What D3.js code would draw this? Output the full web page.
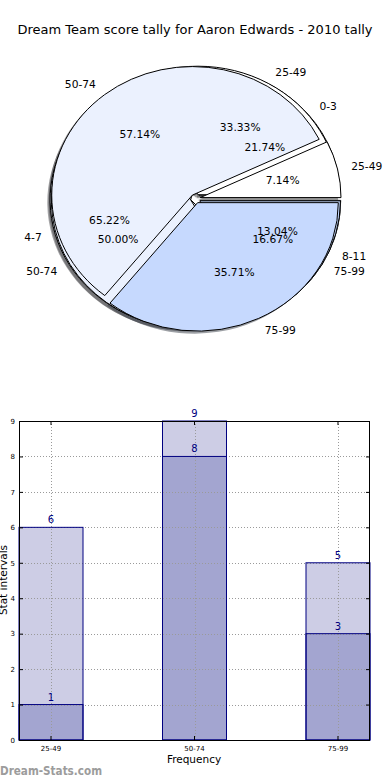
<!DOCTYPE html>
<html>
<head>
<meta charset="utf-8">
<script src="https://cdn.jsdelivr.net/npm/d3@7"></script>
<style>
  html, body { margin: 0; padding: 0; background: #fff; }
  svg { display: block; font-family: "DejaVu Sans", sans-serif; }
</style>
</head>
<body>
<svg id="chart" width="390" height="780"></svg>
<script>
// ---------- data ----------
const title = "Dream Team score tally for Aaron Edwards - 2010 tally";

// three overlaid pies (drawn bottom to top)
const pieALabels = ["0-3", "4-7", "8-11"];
const pieAValues = [5, 15, 3];
const pieBLabels = ["25-49", "50-74", "75-99"];
const pieBValues = [6, 9, 3];
const pieCLabels = ["25-49", "50-74", "75-99"];
const pieCValues = [1, 8, 5];
const pieColors = ["#ffffff", "#ebf1fe", "#c6d9fe"];

// bar chart
const barCategories = ["25-49", "50-74", "75-99"];
const barBackValues = [6, 9, 5];
const barFrontValues = [1, 8, 3];
const yTicks = [0, 1, 2, 3, 4, 5, 6, 7, 8, 9];

// ---------- setup ----------
const svg = d3.select("#chart");

svg.append("text")
  .attr("x", 195).attr("y", 30)
  .attr("text-anchor", "middle").attr("dominant-baseline", "middle")
  .attr("font-size", 13).attr("fill", "#000")
  .text(title);

// ---------- pies ----------
const cx = 195.5, cy = 198.6, rx = 140.7, ry = 128.5;
const explode = 0.035;
const shadowOff = 0.02;

const pieGen = d3.pie().sort(null).value(d => d.v)
  .startAngle(Math.PI / 2).endAngle(Math.PI / 2 - 2 * Math.PI);
const arcGen = d3.arc().innerRadius(0).outerRadius(1);

function build(labels, values) {
  const total = d3.sum(values);
  return pieGen(values.map((v, i) => ({ v, label: labels[i], i, pct: v / total * 100 })));
}
const pies = [build(pieALabels, pieAValues), build(pieBLabels, pieBValues), build(pieCLabels, pieCValues)];

const xs = d3.scaleLinear().domain([-1, 1]).range([cx - rx, cx + rx]);
const ys = d3.scaleLinear().domain([-1, 1]).range([cy + ry, cy - ry]);

const pieRoot = svg.append("g")
  .attr("transform", `translate(${xs(0)},${ys(0)}) scale(${xs(1) - xs(0)},${ys(0) - ys(1)})`);

function mid(d) { return (d.startAngle + d.endAngle) / 2; }
function off(d, k) { const m = mid(d); return [k * Math.sin(m), -k * Math.cos(m)]; }

// shadows (all below wedges)
pies.forEach(arcs => {
  pieRoot.append("g").selectAll("path").data(arcs).join("path")
    .attr("transform", d => { const o = off(d, explode); return `translate(${o[0] - shadowOff},${o[1] + shadowOff})`; })
    .attr("d", arcGen)
    .attr("fill", d => { const c = d3.rgb(pieColors[d.data.i]); return d3.rgb(c.r * 0.3, c.g * 0.3, c.b * 0.3); })
    .attr("fill-opacity", 0.5)
    .attr("stroke", "none");
});
// wedges
pies.forEach(arcs => {
  pieRoot.append("g").selectAll("path").data(arcs).join("path")
    .attr("transform", d => { const o = off(d, explode); return `translate(${o[0]},${o[1]})`; })
    .attr("d", arcGen)
    .attr("fill", d => pieColors[d.data.i])
    .attr("stroke", "#000")
    .attr("stroke-width", 1)
    .attr("vector-effect", "non-scaling-stroke")
    .attr("stroke-linejoin", "round");
});
// labels
const pieText = svg.append("g").attr("font-size", 10.7).attr("fill", "#000");
pies.forEach(arcs => {
  arcs.forEach(d => {
    const lo = off(d, 1.1 + explode);
    pieText.append("text")
      .attr("x", xs(lo[0])).attr("y", ys(-lo[1]))
      .attr("text-anchor", lo[0] > 0 ? "start" : "end")
      .attr("dominant-baseline", "central")
      .text(d.data.label);
    const po = off(d, 0.6 + explode);
    pieText.append("text")
      .attr("x", xs(po[0])).attr("y", ys(-po[1]))
      .attr("text-anchor", "middle")
      .attr("dominant-baseline", "central")
      .text(d.data.pct.toFixed(2) + "%");
  });
});

// ---------- bar chart ----------
const L = 19, R = 370, T = 421, B = 740;
const x = d3.scaleBand().domain(barCategories).range([L, R]).paddingInner(0.554).paddingOuter(0);
const y = d3.scaleLinear().domain([0, 9]).range([B, T]);
const g = svg.append("g");
const navy = "#000080";

function bars(vals, fill, cls) {
  return g.selectAll("rect." + cls).data(barCategories).join("rect")
    .attr("class", cls)
    .attr("x", d => x(d)).attr("width", x.bandwidth())
    .attr("y", (d, i) => y(vals[i])).attr("height", (d, i) => y(0) - y(vals[i]))
    .attr("fill", fill).attr("stroke", "none");
}
bars(barBackValues, "#cdcde5", "backfill");
bars(barFrontValues, "#a3a5d0", "frontfill");

// grid
const grid = g.append("g").attr("stroke", "#9a9a9a").attr("stroke-width", 1).attr("stroke-dasharray", "1,2");
grid.selectAll("line.h").data(yTicks).join("line")
  .attr("x1", L).attr("x2", R).attr("y1", d => Math.round(y(d)) + 0.5).attr("y2", d => Math.round(y(d)) + 0.5);
grid.selectAll("line.v").data(barCategories).join("line")
  .attr("y1", T).attr("y2", B)
  .attr("x1", d => Math.round(x(d) + x.bandwidth() / 2) + 0.5).attr("x2", d => Math.round(x(d) + x.bandwidth() / 2) + 0.5);

// bar outlines above the grid
[barBackValues, barFrontValues].forEach((vals, k) => {
  g.selectAll("rect.outline" + k).data(barCategories).join("rect")
    .attr("class", "outline" + k)
    .attr("x", d => x(d)).attr("width", x.bandwidth())
    .attr("y", (d, i) => y(vals[i])).attr("height", (d, i) => y(0) - y(vals[i]))
    .attr("fill", "none").attr("stroke", navy).attr("stroke-width", 1);
});

// value labels
const valText = g.append("g").attr("font-size", 10).attr("fill", navy).attr("text-anchor", "middle");
[barBackValues, barFrontValues].forEach(vals => {
  valText.selectAll(null).data(barCategories).join("text")
    .attr("x", d => x(d) + x.bandwidth() / 2)
    .attr("y", (d, i) => y(vals[i]) - 4)
    .text((d, i) => vals[i]);
});

// axes box
g.append("rect").attr("x", L + 0.5).attr("y", T + 0.5).attr("width", R - L - 1).attr("height", B - T)
  .attr("fill", "none").attr("stroke", "#000").attr("stroke-width", 1);

const yAxisL = d3.axisLeft(y).tickValues(yTicks).tickSize(-4).tickPadding(4);
const yAxisR = d3.axisRight(y).tickValues(yTicks).tickSize(-4).tickFormat("");
const xAxisB = d3.axisBottom(x).tickSize(-4).tickPadding(6);
const xAxisT = d3.axisTop(x).tickSize(-4).tickFormat("");
function style(sel) {
  sel.select(".domain").remove();
  sel.selectAll("text").attr("font-size", 7).attr("fill", "#000").attr("font-family", "DejaVu Sans, sans-serif");
  sel.selectAll("line").attr("stroke", "#000");
}
g.append("g").attr("transform", `translate(${L},0)`).call(yAxisL).call(style);
g.append("g").attr("transform", `translate(${R},0)`).call(yAxisR).call(style);
g.append("g").attr("transform", `translate(0,${B})`).call(xAxisB).call(style);
g.append("g").attr("transform", `translate(0,${T})`).call(xAxisT).call(style);

svg.append("text").attr("x", 194).attr("y", 760).attr("text-anchor", "middle")
  .attr("dominant-baseline", "middle").attr("font-size", 10.5).text("Frequency");
svg.append("text").attr("transform", "translate(4,580) rotate(-90)").attr("text-anchor", "middle")
  .attr("dominant-baseline", "middle").attr("font-size", 10.5).text("Stat intervals");

svg.append("text").attr("x", 0).attr("y", 771).attr("dominant-baseline", "middle")
  .attr("font-size", 11.5).attr("font-weight", 600).attr("fill", "#9c9c9c")
  .attr("textLength", 102).attr("lengthAdjust", "spacingAndGlyphs").text("Dream-Stats.com");
</script>
</body>
</html>
